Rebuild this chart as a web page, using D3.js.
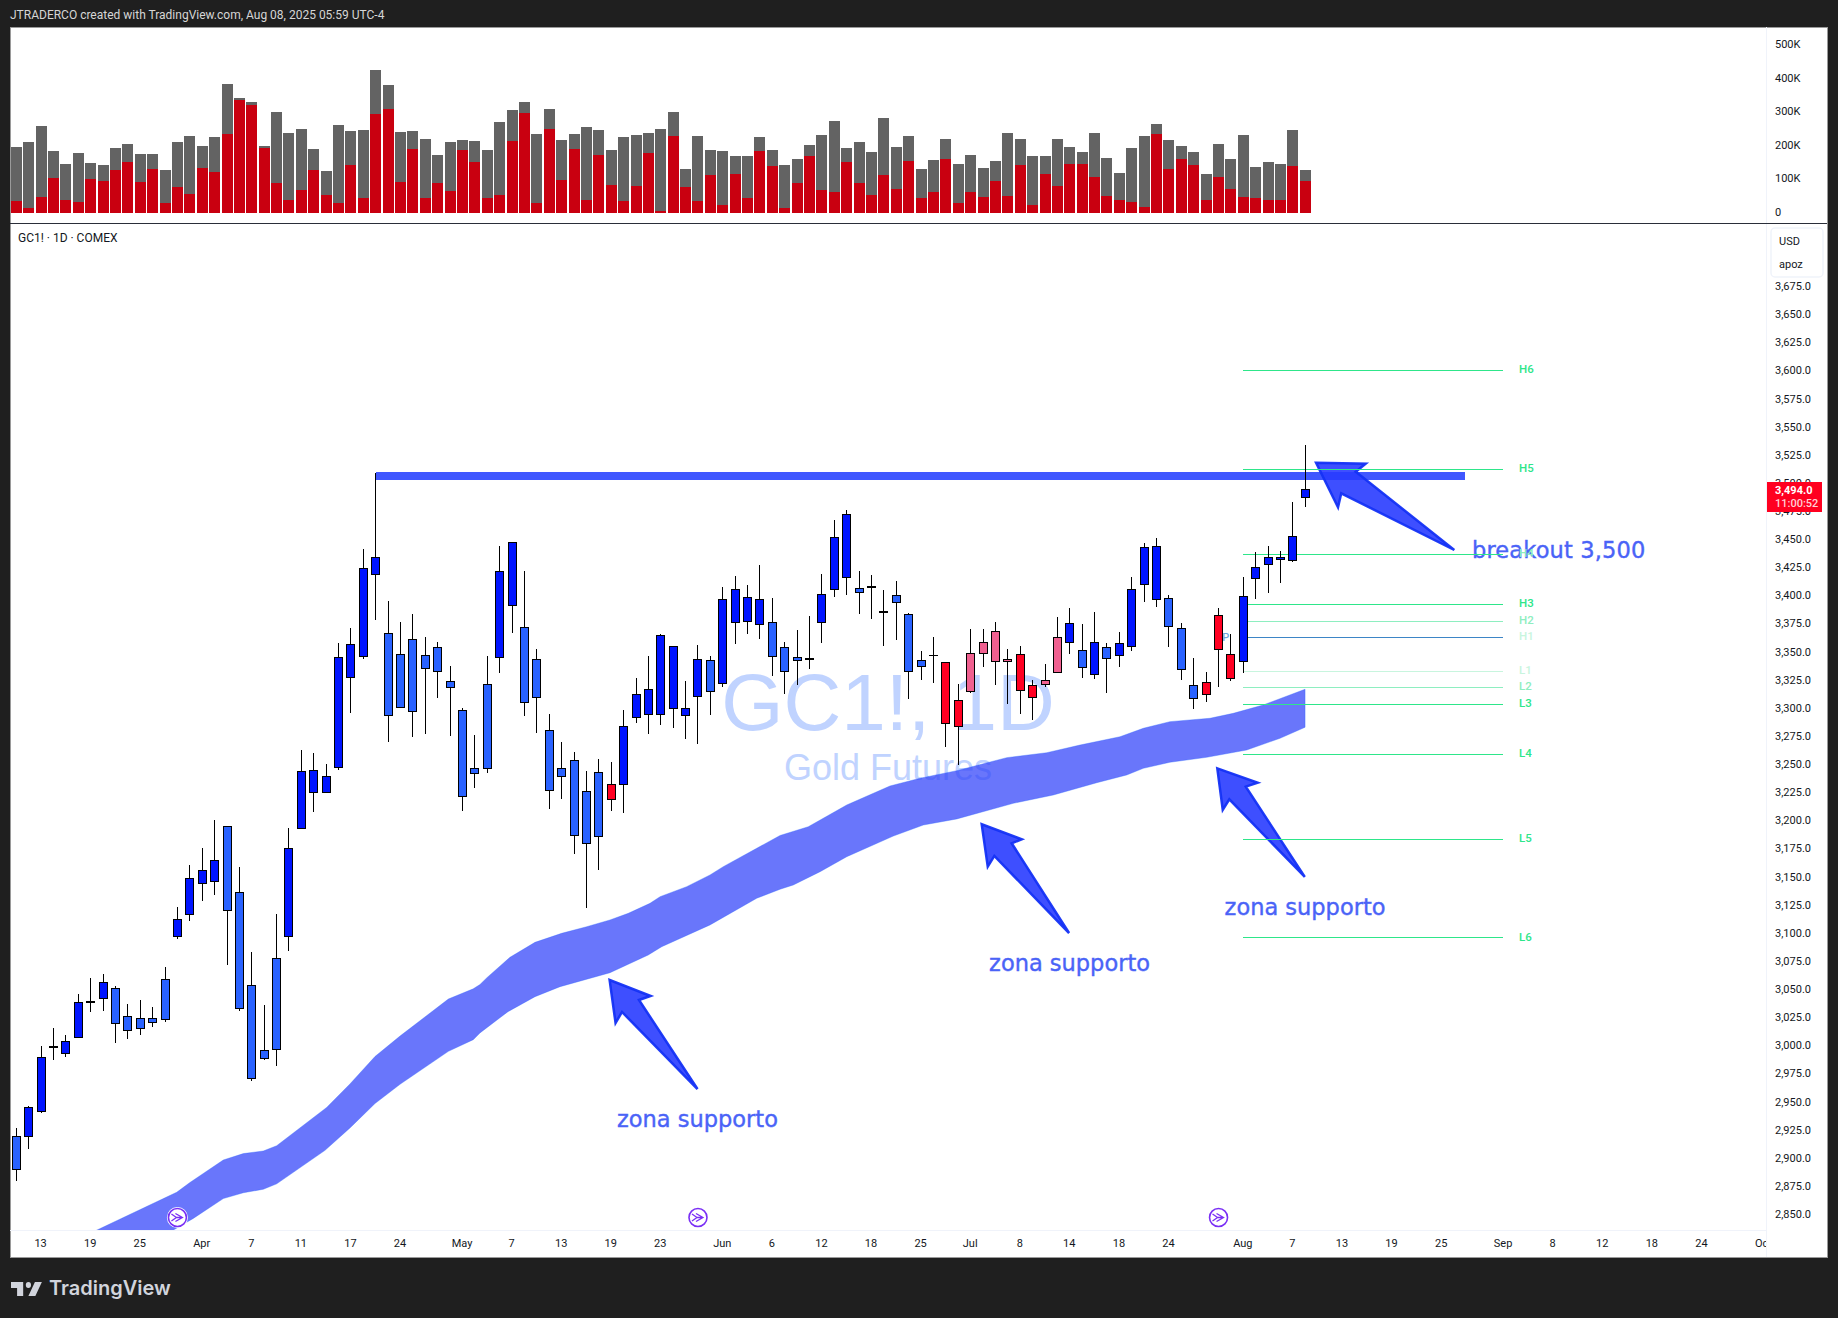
<!DOCTYPE html>
<html><head><meta charset="utf-8">
<script src="https://cdn.jsdelivr.net/npm/d3@7"></script>
<style>
html,body{margin:0;padding:0;background:#1f1f1f;}
svg{display:block;}
text{font-family:Roboto,"Liberation Sans",sans-serif;}
.axis text{fill:#131722;font-size:11px;}
.axis path{display:none;}
.axis line{display:none;}
</style></head><body>
<svg id="c" width="1838" height="1318"></svg>
<script>
const highs=[2926.8,2946.3,2999.1,3015.3,3009,3045.5,3059.8,3063.4,3052.6,3036.8,3040.3,3034,3069.7,3123.3,3160.6,3175.7,3199.9,3194.7,3158.6,3082.8,3035.6,3116.9,3193.5,3262.2,3260.2,3249.9,3357.5,3371,3441.2,3508.8,3395,3376.3,3383.4,3363,3358.5,3337.2,3299.9,3275.9,3346.1,3443.9,3447.1,3421.6,3352.3,3294.5,3269.6,3260.8,3243.9,3254.5,3251.9,3298.1,3326.5,3346.1,3365.6,3354.7,3323.9,3355.9,3346.1,3407.4,3417.2,3409.2,3427,3397.6,3358.5,3369.2,3381.6,3418.9,3467,3475.8,3421.6,3418,3404.7,3412.7,3384.3,3350.5,3362.9,3340.4,3320.9,3370.1,3370.1,3376.3,3352.3,3354.9,3324.7,3338.9,3380.7,3388.7,3374.5,3385.2,3357.6,3367.4,3416.3,3446.5,3450.9,3400.3,3375.4,3344.3,3331.8,3388.7,3365.6,3416.3,3438.5,3443.8,3439.5,3483,3533.7];
const lows=[2879.6,2908.2,2939.5,2986.8,2989.5,3006.6,3029.6,3030.4,3001.8,3005.4,3009,3016.1,3020.5,3094.7,3110.6,3128.4,3133.6,3071.3,3030.4,2968.1,2986.8,2981.2,3084,3192.4,3207,3224.5,3244.3,3295.1,3343.4,3378.1,3269.6,3300.2,3274.1,3276.8,3308.8,3275,3208.6,3228.8,3242.1,3331,3366.5,3292.8,3277.6,3210.1,3219,3170.1,3122.1,3155.9,3208.3,3206.5,3286.5,3276.8,3284.8,3282.1,3272.3,3267.9,3293.6,3318.5,3356.8,3365.6,3361.2,3328.3,3312.3,3320.3,3334.5,3357.6,3398.5,3400.3,3383.4,3378.9,3354.9,3360.3,3307.8,3324.7,3322.1,3265.2,3249.2,3313.2,3336.3,3320.3,3303.4,3294.5,3289.2,3318.5,3331.2,3347.8,3326.5,3325.6,3313.2,3336.3,3350.5,3394.1,3389.6,3354,3324.7,3298.9,3305.2,3318.5,3323.8,3330.9,3396.7,3402.1,3411,3429.7,3478.6];
const opens=[2918.5,2919.3,2940.7,2999.1,2992.3,3006.6,3039.1,3041.5,3050.7,3025.7,3023.7,3023.7,3058.6,3096.7,3116.5,3143.9,3145.9,3194.7,3136,3053,2995.1,3077.2,3096.7,3192.4,3224.5,3224.5,3246.7,3326.9,3345.5,3418.4,3366.2,3347.6,3360.9,3346.7,3353.8,3323.6,3297.8,3246.2,3320.9,3344.6,3390.8,3371.6,3343.1,3280,3246.2,3253.3,3225.8,3242.7,3232,3231.7,3291.3,3293.9,3293.9,3299.3,3293,3309.9,3342.2,3321.5,3375.7,3376.6,3373.9,3376,3353.8,3344.9,3343.4,3375.7,3405,3415.7,3406.2,3408,3385.8,3400,3383.1,3342.2,3346.9,3340.4,3306.6,3314.3,3348.1,3341,3341,3347.5,3320,3320.6,3331.2,3357.9,3351.1,3329.5,3353.8,3346.3,3354.3,3409.5,3396.1,3397.3,3370.6,3320,3322.6,3382.2,3347.5,3341,3414.8,3427.2,3431.7,3430.9,3486.9];
const closes=[2889.9,2944.3,2989.1,2998.3,3003.4,3038,3038.3,3055.8,3019.3,3013,3014.5,3020.1,3022.9,3112.2,3148.7,3155.8,3164.6,3120.1,3032.4,2970.9,2988,2995.9,3175.3,3243.2,3244,3238.8,3344.8,3356.3,3424,3433.8,3293,3300.2,3296.6,3334.8,3332.2,3317.9,3221,3241.5,3245.9,3421.3,3447.1,3304.6,3309.1,3226.4,3238.8,3186.4,3179.3,3185.5,3218.4,3283.6,3312,3316.5,3364.5,3354.7,3299.6,3343.1,3314.4,3396.5,3405.3,3398.2,3396.5,3345.5,3332.2,3341.9,3342.8,3400.9,3451.5,3472,3402.3,3406.8,3384.6,3393.5,3332.1,3336.6,3346.3,3285.9,3283.2,3348.4,3358.2,3368,3343.1,3315.2,3309,3324.4,3362.6,3375.1,3335.7,3358.2,3343.7,3357.3,3405.3,3442.6,3443.5,3372.1,3333.9,3308.1,3311.7,3351.7,3325.9,3399.1,3424.9,3433.8,3433.8,3452.5,3494];
const states="bddbddbdbbbbbddddbbbbbddddddddbbbbbbbbbddbbbbbbbrdddddddbddddbbbbdddbbbbbbbrrpppprrppdbdbddddbbbrrrdddddd".split("");
const volumeTotal=[196,211,258,184,146,178,149,143,193,205,175,175,128,211,229,199,226,383,342,330,199,300,238,249,190,125,261,244,247,425,380,241,244,220,172,211,217,214,187,270,306,330,235,309,217,235,255,247,187,226,232,238,249,300,131,229,187,184,169,169,226,187,143,160,202,232,273,193,211,181,282,196,229,131,157,220,146,172,134,154,238,220,169,169,220,196,181,238,163,119,193,229,264,217,199,181,116,205,160,232,137,151,146,247,128];
const volumeRed=[36,15,48,104,39,33,101,95,128,151,92,131,30,77,56,134,122,235,336,321,193,89,39,68,128,53,30,143,45,294,309,92,190,45,89,65,187,151,45,53,214,297,30,249,98,190,39,172,83,36,80,178,6,229,77,36,113,24,116,45,184,140,15,89,169,68,62,151,89,53,113,71,154,45,62,160,30,62,48,95,50,143,24,116,80,146,146,107,50,39,33,18,235,131,160,143,39,107,71,48,45,39,39,140,95];
const bandUpperIdx=[6.35,12.94,14.01,16.7,18.32,19.93,21.01,25.04,26.92,28.94,30.96,34.86,36.87,37.41,37.95,39.83,41.85,44,46.02,47.9,49.38,51.13,51.94,54.09,55.97,57.04,59.74,61.62,63.9,65.11,67,70.49,72.92,75.88,79.91,83.14,85.82,89.05,90.93,93.08,96.31,98.19,100.6,103.98];
const bandUpper=[2834.9,2869.3,2878,2898,2903.7,2906,2910.7,2944.7,2965.6,2990,3008.2,3041.1,3050.2,3054,3059.9,3078.2,3091.5,3099.5,3105.4,3111.4,3117.3,3126.2,3132.1,3141,3151.4,3158.8,3175.1,3186.5,3194.3,3201.8,3213.6,3230.5,3237.4,3244.1,3255.7,3260.1,3266.9,3274.3,3281.8,3287.7,3290.7,3295.1,3302.5,3316.5];
const bandLowerIdx=[12.54,14.28,16.7,18.32,19.93,21.01,24.91,26.92,28.94,30.96,34.86,36.87,37.41,39.67,41.85,43.87,47.9,50.99,52.07,55.97,59.74,61.62,62.69,64.85,67,70.76,73.18,75.88,80.44,83.67,87.17,89.59,90.93,93.08,96.04,99.27,101.96,103.98];
const bandLower=[2834.9,2846.1,2863.7,2868.9,2872,2876.8,2906.6,2926.5,2948.2,2965.3,2994.6,3005,3011,3029.9,3043.2,3052.1,3064.5,3080.3,3087.6,3107,3130.7,3138.7,3142.5,3154.3,3167.6,3186,3195.8,3201.2,3215.1,3222.5,3233.4,3240.3,3246.2,3251.6,3256,3262.5,3272.9,3282.7];
const pivotNames=["H6","H5","H4","H3","H2","H1","L1","L2","L3","L4","L5","L6"];
const pivotPrices=[3600.3,3512,3436.5,3392,3377,3362.7,3332.5,3318.2,3303.1,3258.7,3183,3095.4];
const pivotRange=[98.98,119.98];
const priceTicks=d3.range(2850,3676,25);
const volumeTicks=[0,100,200,300,400,500];
const timeTickIdx=[2,6,10,15,19,23,27,31,36,40,44,48,52,57,61,65,69,73,77,81,85,89,93,99,103,107,111,115,120,124,128,132,136,141];
const timeTickLabels=["13","19","25","Apr","7","11","17","24","May","7","13","19","23","Jun","6","12","18","25","Jul","8","14","18","24","Aug","7","13","19","25","Sep","8","12","18","24","Oct"];
const rollIdx=[13,55,97];
const resistancePrice=3506, resistanceFrom=29, resistanceTo=116.9;
const arrowIdx=[[47.87,51.18,50.24,54.96,48.87,48.35],[77.89,81.12,80.31,84.94,78.91,78.38],[96.9,100.16,99.2,103.96,97.87,97.34],[104.87,108.87,108.07,116.02,106.9,106.64]];
const arrowPrice=[[3058,3043.8,3040.3,2961.1,3029.6,3019.8],[3196.5,3183.1,3179.6,3099.8,3168.3,3158.8],[3246.2,3233.4,3229.9,3149.6,3218.7,3209.2],[3517.9,3517,3509.9,3440.3,3490.7,3478.3]];
const noteTexts=["zona supporto","zona supporto","zona supporto","breakout 3,500"];
const noteIdx=[54.96,84.98,103.98,117.45];
const notePrice=[2933,3071.5,3122,3439];
const lastPrice=3494;

const W=1838,H=1318,L=10,T=27,R=1827,B=1257,AX=1766,DIV=223,TA=1230;
const colours={d:"#0014ff",b:"#2962ff",r:"#ff0022",p:"#f06090"};
const pivotColours={H6:"#2ee68a",H5:"#2ee68a",H4:"#2ee68a",H3:"#2ee68a",H2:"#8eeec0",H1:"#3d85c6",L1:"#c8f5de",L2:"#8eeec0",L3:"#2ee68a",L4:"#2ee68a",L5:"#2ee68a",L6:"#2ee68a"};
const labelColours={H6:"#2ee68a",H5:"#2ee68a",H4:"#8eeec0",H3:"#2ee68a",H2:"#8eeec0",H1:"#c8f5de",L1:"#c8f5de",L2:"#8eeec0",L3:"#2ee68a",L4:"#2ee68a",L5:"#2ee68a",L6:"#2ee68a"};

const svg=d3.select("#c");
const x=d3.scaleLinear().domain([0,104]).range([16.3,1305.3]);
const y=d3.scaleLinear().domain([2850,3675]).range([1214,286]);
const yv=d3.scaleLinear().domain([0,500]).range([213,45]);
const n=opens.length;
const data=d3.range(n).map(i=>({i,o:opens[i],h:highs[i],l:lows[i],c:closes[i],s:states[i],vt:volumeTotal[i],vr:volumeRed[i]}));

svg.append("rect").attr("width",W).attr("height",H).attr("fill","#1f1f1f");
svg.append("rect").attr("x",L).attr("y",T).attr("width",R-L).attr("height",B-T).attr("fill","#fff").attr("stroke","#9a9a9a").attr("stroke-width",1).attr("shape-rendering","crispEdges");
svg.append("text").attr("x",10).attr("y",19).attr("fill","#d6d6d6").attr("font-size",12).text("JTRADERCO created with TradingView.com, Aug 08, 2025 05:59 UTC-4");

const defs=svg.append("defs");
defs.append("clipPath").attr("id","pane").append("rect").attr("x",L).attr("y",DIV+1).attr("width",AX-L).attr("height",TA-DIV-1);
defs.append("clipPath").attr("id","timeclip").append("rect").attr("x",L).attr("y",TA).attr("width",AX-L).attr("height",B-TA);

// volume
const vg=svg.append("g").attr("shape-rendering","crispEdges");
const bw=11;
vg.selectAll(".vt").data(data).join("rect").attr("x",d=>Math.round(x(d.i)-bw/2)).attr("width",bw).attr("y",d=>yv(d.vt)).attr("height",d=>yv(0)-yv(d.vt)).attr("fill","#636363");
vg.selectAll(".vr").data(data).join("rect").attr("x",d=>Math.round(x(d.i)-bw/2)).attr("width",bw).attr("y",d=>yv(d.vr)).attr("height",d=>yv(0)-yv(d.vr)).attr("fill","#c90010");

// frame lines
svg.append("line").attr("x1",AX).attr("x2",AX).attr("y1",T).attr("y2",B).attr("stroke","#f0f3fa").attr("shape-rendering","crispEdges");
svg.append("line").attr("x1",L).attr("x2",AX).attr("y1",TA).attr("y2",TA).attr("stroke","#f0f3fa").attr("shape-rendering","crispEdges");
svg.append("line").attr("x1",L).attr("x2",R).attr("y1",DIV).attr("y2",DIV).attr("stroke","#2a2e39").attr("stroke-width",1).attr("shape-rendering","crispEdges");

// main pane
const pane=svg.append("g").attr("clip-path","url(#pane)");
pane.append("text").attr("x",888).attr("y",730).attr("text-anchor","middle").attr("fill","#c0d3ff").attr("font-size",80).style("font-family","'Liberation Sans'").text("GC1!, 1D");
pane.append("text").attr("x",888).attr("y",780).attr("text-anchor","middle").attr("fill","#c0d3ff").attr("font-size",36).style("font-family","'Liberation Sans'").text("Gold Futures");

// ribbon
const up=bandUpperIdx.map((v,i)=>[x(v),y(bandUpper[i])]);
const lo=bandLowerIdx.map((v,i)=>[x(v),y(bandLower[i])]).reverse();
pane.append("path").attr("d",d3.line()(up.concat(lo))+"Z").attr("fill","rgba(41,60,250,.7)").attr("stroke","rgba(41,98,255,.35)").attr("stroke-width",1).attr("stroke-linejoin","round");

// resistance
pane.append("line").attr("x1",x(resistanceFrom)).attr("x2",x(resistanceTo)).attr("y1",y(resistancePrice)).attr("y2",y(resistancePrice)).attr("stroke","#4057ff").attr("stroke-width",8).attr("shape-rendering","crispEdges");

// arrows
arrowIdx.forEach((a,k)=>{
 pane.append("path").attr("d",d3.line()(a.map((v,i)=>[x(v),y(arrowPrice[k][i])]))+"Z").attr("fill","rgba(41,60,255,.9)").attr("stroke","rgba(20,50,245,.95)").attr("stroke-width",2.5).attr("stroke-linejoin","miter");
});
// notes
noteTexts.forEach((t,k)=>{
 pane.append("text").attr("x",x(noteIdx[k])).attr("y",y(notePrice[k])).attr("text-anchor",k==3?"start":"middle").attr("dominant-baseline","middle").attr("fill","#4a63f7").attr("stroke","#4a63f7").attr("stroke-width",.4).attr("font-size",22.5).attr("letter-spacing",k==3?.15:0).style("font-family","'DejaVu Sans'").text(t);
});
// pivots
pane.append("text").attr("x",x(97.3)).attr("y",y(pivotPrices[5])).attr("dy",".35em").attr("fill","#6ea8dc").attr("font-size",11).attr("font-weight",500).text("P");
pivotNames.forEach((nm,k)=>{
 pane.append("line").attr("x1",x(pivotRange[0])).attr("x2",x(pivotRange[1])).attr("y1",y(pivotPrices[k])).attr("y2",y(pivotPrices[k])).attr("stroke",pivotColours[nm]).attr("stroke-width",1).attr("shape-rendering","crispEdges");
 pane.append("text").attr("x",1519).attr("y",y(pivotPrices[k])-1).attr("dy",".35em").attr("fill",labelColours[nm]).attr("font-size",11.5).attr("font-weight",500).text(nm);
});

// candles
const cg=pane.append("g").attr("shape-rendering","crispEdges");
const px=i=>Math.floor(x(i))+.5;
cg.selectAll(".w").data(data).join("line").attr("x1",d=>px(d.i)).attr("x2",d=>px(d.i)).attr("y1",d=>y(d.h)).attr("y2",d=>y(d.l)).attr("stroke","#000").attr("stroke-width",1);
cg.selectAll(".b").data(data).join("rect").attr("x",d=>px(d.i)-4).attr("width",8)
 .attr("y",d=>y(Math.max(d.o,d.c))).attr("height",d=>Math.max(Math.abs(y(d.o)-y(d.c)),.5))
 .attr("fill",d=>colours[d.s]).attr("stroke","#000").attr("stroke-width",1);

// rollover markers
const mk=pane.selectAll(".m").data(rollIdx).join("g").attr("transform",d=>`translate(${x(d)},1217.5)`);
mk.append("circle").attr("r",10.5).attr("fill","#fff");
mk.append("circle").attr("r",9).attr("fill","#fff").attr("stroke","#7a2ff5").attr("stroke-width",1.6);
mk.append("path").attr("d","M-6,-3.5 L-1,0 L-6,3.5 M-2,-4 L5,0 L-2,4 M-2,0 H5").attr("fill","none").attr("stroke","#7a2ff5").attr("stroke-width",1.3);

// axes
svg.append("g").attr("class","axis").attr("transform",`translate(${AX+9},0)`).call(d3.axisRight(y).tickValues(priceTicks).tickSize(0).tickPadding(0).tickFormat(d3.format(",.1f")));
svg.append("g").attr("class","axis").attr("transform",`translate(${AX+9},-1)`).call(d3.axisRight(yv).tickValues(volumeTicks).tickSize(0).tickPadding(0).tickFormat(d=>d?d+"K":"0"));
svg.append("g").attr("clip-path","url(#timeclip)").append("g").attr("class","axis").attr("transform",`translate(-1,${TA+9})`).call(d3.axisBottom(x).tickValues(timeTickIdx).tickSize(0).tickPadding(0).tickFormat((d,i)=>timeTickLabels[i]));

// unit box
svg.append("rect").attr("x",1771).attr("y",228).attr("width",52).attr("height",49).attr("rx",4).attr("fill","#fff").attr("stroke","#f0f3fa").attr("stroke-width",1.5);
svg.append("text").attr("x",1779).attr("y",245).attr("font-size",11).attr("fill","#131722").text("USD");
svg.append("text").attr("x",1779).attr("y",268).attr("font-size",11).attr("fill","#131722").text("apoz");
svg.append("text").attr("x",18).attr("y",242).attr("font-size",12).attr("fill","#131722").text("GC1! · 1D · COMEX");

// last price tag
svg.append("rect").attr("x",1767).attr("y",482).attr("width",55).attr("height",30).attr("fill","#ff0020");
svg.append("text").attr("x",1775).attr("y",494).attr("font-size",11).attr("font-weight",700).attr("fill","#fff").text(d3.format(",.1f")(lastPrice));
svg.append("text").attr("x",1775).attr("y",507).attr("font-size",11).attr("font-weight",500).attr("fill","#ffd0d6").text("11:00:52");

// logo
const lg=svg.append("g").attr("transform","translate(11,1276) scale(.87,1)").attr("fill","#d1d4dc");
lg.append("path").attr("d","M14 6H0v6h7v8h7V6ZM28 20h-8l7.5-14h8L28 20Z");
lg.append("circle").attr("cx",20).attr("cy",9).attr("r",3);
svg.append("text").attr("x",49).attr("y",1295).attr("fill","#d1d4dc").attr("font-size",20).attr("font-weight",600).style("font-family","Inter").text("TradingView");
</script>
</body></html>
